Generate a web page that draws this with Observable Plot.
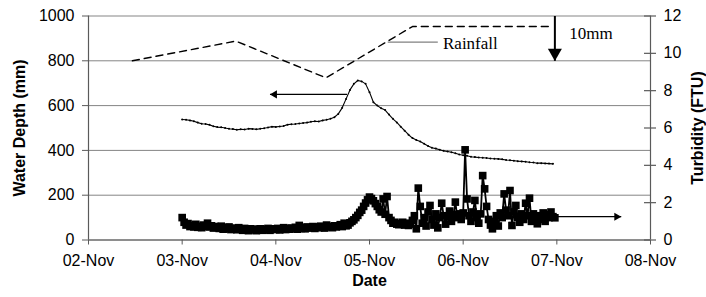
<!DOCTYPE html>
<html>
<head>
<meta charset="utf-8">
<script src="https://cdn.jsdelivr.net/npm/d3@7"></script>
<script src="https://cdn.jsdelivr.net/npm/@observablehq/plot@0.6"></script>
<style>
  html, body { margin: 0; padding: 0; background: #fff; }
  svg { display: block; }
</style>
</head>
<body>
<div id="chart"></div>
<script>
// ---------- data ----------
const seriesStart = "2008-11-03T00:00Z";   // first reading, 03-Nov 00:00
const xTickDates = ["2008-11-02", "2008-11-03", "2008-11-04", "2008-11-05", "2008-11-06", "2008-11-07", "2008-11-08"];
const depthTicks = [0, 200, 400, 600, 800, 1000];
const turbidityTicks = [0, 2, 4, 6, 8, 10, 12];

// Water depth (mm), hourly readings
const depthMm = [
  538,537,534,530,524,519,518,514,508,504,503,500,497,495,492,494,493,497,496,494,497,499,502,506,
  505,507,509,515,517,518,520,522,524,528,530,529,534,537,541,548,563,590,630,670,697,712,708,697,
  660,615,600,588,580,560,541,525,506,488,470,455,446,440,430,420,412,408,403,398,395,392,387,382,
  378,376,372,370,368,367,366,364,363,362,360,357,356,354,352,351,349,347,346,343,343,342,341,340
];

// Turbidity (FTU), half-hourly readings, two rows per day (03, 04, 05, 06 Nov)
const turbidityFTU = [
  1.20,0.95,0.80,0.88,0.72,0.78,0.70,0.84,0.68,0.74,0.66,0.80,0.72,0.90,0.70,0.76,0.64,0.72,0.68,0.62,0.74,0.58,0.66,0.60,
  0.70,0.56,0.64,0.60,0.55,0.66,0.58,0.52,0.62,0.56,0.50,0.60,0.54,0.58,0.50,0.56,0.60,0.52,0.58,0.54,0.62,0.52,0.58,0.60,

  0.56,0.62,0.54,0.60,0.66,0.56,0.62,0.58,0.64,0.60,0.68,0.58,0.78,0.62,0.66,0.60,0.70,0.64,0.66,0.72,0.62,0.70,0.66,0.74,
  0.68,0.64,0.80,0.70,0.72,0.66,0.76,0.70,0.74,0.82,0.72,0.90,0.76,0.80,0.92,1.00,1.08,1.20,1.32,1.48,1.60,1.80,1.98,2.15,

  2.30,2.22,2.10,1.95,1.80,1.62,1.50,2.20,1.38,2.33,1.20,1.05,0.90,0.95,0.85,0.82,0.88,0.95,0.80,0.90,0.78,0.85,1.05,1.30,
  0.60,2.78,1.80,0.90,1.20,0.75,1.50,1.85,1.10,0.80,1.40,0.65,1.20,1.97,1.30,0.85,1.25,1.55,1.00,1.35,2.03,1.20,1.40,1.10,

  1.45,4.83,2.20,1.30,1.00,1.50,2.12,1.20,0.90,1.40,3.45,2.74,1.80,1.10,0.80,0.60,1.00,1.30,0.75,1.45,1.20,2.47,1.60,1.30,
  2.65,0.78,1.50,1.85,1.20,0.95,1.40,1.10,1.97,1.30,2.24,1.00,1.40,1.15,0.87,1.30,1.10,1.45,1.00,1.35,1.20,1.50,1.25,1.19
];

// Rainfall trace (drawn against the left axis units)
const rainfallDates = ["2008-11-02T11:15Z", "2008-11-03T13:45Z", "2008-11-04T12:50Z", "2008-11-05T11:00Z", "2008-11-06T22:30Z"];
const rainfallLevel = [800, 888, 724, 953, 953];

// Annotations
const depthArrow = {from: "2008-11-04T18:15Z", to: "2008-11-03T22:30Z", level: 650};
const turbArrow = {from: "2008-11-06T23:30Z", to: "2008-11-07T16:30Z", level: 1.25};
const rainArrow = {at: "2008-11-06T23:30Z", from: 1000, to: 800};
const rainLeader = {from: "2008-11-05T04:40Z", to: "2008-11-05T17:30Z", level: 883};
const rainLabel = {text: "Rainfall", at: "2008-11-05T18:50Z", level: 877};
const scaleLabel = {text: "10mm", at: "2008-11-07T03:10Z", level: 920};

const labels = {left: "Water Depth (mm)", right: "Turbidity (FTU)", x: "Date"};

// ---------- build ----------
const start = new Date(seriesStart);
const depthRows = depthMm.map((d, i) => ({t: d3.utcHour.offset(start, i), v: d}));
const turbRows = turbidityFTU.map((d, i) => ({t: d3.utcMinute.offset(start, 30 * i), v: d}));
const rain = rainfallDates.map((s, i) => ({t: new Date(s), v: rainfallLevel[i]}));
const xDates = xTickDates.map(s => new Date(s + "T00:00Z"));
const xStart = xDates[0], xEnd = xDates[xDates.length - 1];
const y2 = d3.scaleLinear([0, 12], [0, 1000]);   // turbidity -> left-axis units
const D = s => new Date(s);

const axisGray = "#5a5a5a";
const serif = "'Liberation Serif', 'Times New Roman', serif";

const chart = Plot.plot({
  width: 706,
  height: 297,
  marginLeft: 88,
  marginRight: 56,
  marginTop: 15.5,
  marginBottom: 57.5,
  style: {fontFamily: "'Liberation Sans', Arial, sans-serif", fontSize: "16px", background: "#fff", color: "#000"},
  x: {type: "utc", domain: [xStart, xEnd]},
  y: {domain: [0, 1000]},
  marks: [
    Plot.gridY(depthTicks, {stroke: "#858585", strokeOpacity: 1, strokeWidth: 1}),
    // rainfall dashed trace
    Plot.line(rain, {x: "t", y: "v", stroke: "#000", strokeWidth: 1.4, strokeDasharray: "7,5"}),
    // water depth
    Plot.line(depthRows, {x: "t", y: "v", stroke: "#000", strokeWidth: 1.1}),
    Plot.dot(depthRows, {x: "t", y: "v", r: 1, fill: "#000", stroke: "none"}),
    // turbidity
    Plot.line(turbRows, {x: "t", y: d => y2(d.v), stroke: "#000", strokeWidth: 1.8}),
    Plot.dot(turbRows, {x: "t", y: d => y2(d.v), symbol: "square", r: 4.3, fill: "#000", stroke: "none"}),
    // depth arrow (points left)
    Plot.link([depthArrow], {x1: d => D(d.from), x2: d => D(d.to), y1: "level", y2: "level", stroke: "#000", strokeWidth: 1.3}),
    Plot.dot([depthArrow], {x: d => D(d.to), y: "level", symbol: "triangle", r: 3, rotate: -90, dx: 4.6, fill: "#000", stroke: "none"}),
    // turbidity arrow (points right)
    Plot.link([turbArrow], {x1: d => D(d.from), x2: d => D(d.to), y1: d => y2(d.level), y2: d => y2(d.level), stroke: "#000", strokeWidth: 1.3}),
    Plot.dot([turbArrow], {x: d => D(d.to), y: d => y2(d.level), symbol: "triangle", r: 3, rotate: 90, dx: -4.6, fill: "#000", stroke: "none"}),
    // rainfall scale arrow (points down)
    Plot.link([rainArrow], {x1: d => D(d.at), x2: d => D(d.at), y1: "from", y2: "to", stroke: "#000", strokeWidth: 2}),
    Plot.dot([rainArrow], {x: d => D(d.at), y: "to", symbol: "triangle", r: 5.2, rotate: 180, dy: -8, fill: "#000", stroke: "none"}),
    // rainfall label leader
    Plot.link([rainLeader], {x1: d => D(d.from), x2: d => D(d.to), y1: "level", y2: "level", stroke: "#808080", strokeWidth: 1.2}),
    Plot.text([rainLabel], {x: d => D(d.at), y: "level", text: "text", textAnchor: "start", lineAnchor: "middle", fontFamily: serif, fontSize: 17, fill: "#000"}),
    Plot.text([scaleLabel], {x: d => D(d.at), y: "level", text: "text", textAnchor: "start", lineAnchor: "middle", fontFamily: serif, fontSize: 17, fill: "#000"}),
    // frame lines
    Plot.ruleX([xStart, xEnd], {stroke: axisGray, strokeWidth: 1.2}),
    Plot.ruleY([0], {stroke: axisGray, strokeWidth: 1.2}),
    // axes
    Plot.axisX(xDates, {tickFormat: d3.utcFormat("%d-%b"), tickSize: 5, tickPadding: 10, stroke: axisGray, fill: "#000", label: null, fontSize: 16}),
    Plot.axisY(depthTicks, {anchor: "left", tickFormat: d => String(d), tickSize: 6, tickPadding: 8, stroke: axisGray, fill: "#000", label: null, fontSize: 16}),
    // right axis (turbidity)
    Plot.ruleY(turbidityTicks, {y: v => y2(v), x1: () => xEnd, x2: () => xEnd, insetLeft: -6, insetRight: -6, stroke: axisGray, strokeWidth: 1.2}),
    Plot.text(turbidityTicks, {y: v => y2(v), text: v => String(v), frameAnchor: "right", dx: 13, textAnchor: "start", lineAnchor: "middle", fontSize: 16, fill: "#000"}),
    // axis titles
    Plot.text([labels.left], {frameAnchor: "left", rotate: -90, dx: -69, textAnchor: "middle", lineAnchor: "middle", fontWeight: "bold", fontSize: 16, fill: "#000"}),
    Plot.text([labels.right], {frameAnchor: "right", rotate: -90, dx: 47, textAnchor: "middle", lineAnchor: "middle", fontWeight: "bold", fontSize: 16, fill: "#000"}),
    Plot.text([labels.x], {frameAnchor: "bottom", dy: 41, textAnchor: "middle", lineAnchor: "middle", fontWeight: "bold", fontSize: 16, fill: "#000"})
  ]
});
document.getElementById("chart").appendChild(chart);
</script>
</body>
</html>
